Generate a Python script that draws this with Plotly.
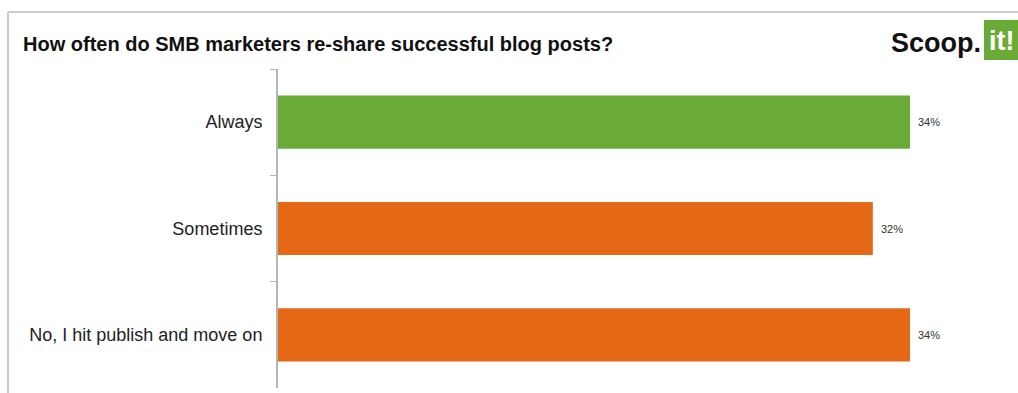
import plotly.graph_objects as go

# Survey answers and their shares (%)
categories = ["Always", "Sometimes", "No, I hit publish and move on"]
shares = [34, 32, 34]
bar_colors = ["#6aab37", "#e56816", "#e56816"]
value_labels = [f"{v}%" for v in shares]

W, H = 1018, 393
ML, MR, MT, MB = 278, 0, 69, 5
PW, PH = W - ML - MR, H - MT - MB

def px_x(x):
    return (x - ML) / PW

def px_y(y):
    return (H - MB - y) / PH

fig = go.Figure(
    go.Bar(
        y=categories,
        x=shares,
        orientation="h",
        marker=dict(color=bar_colors, line=dict(width=0)),
        width=0.5,
        hoverinfo="skip",
    )
)

# value labels just right of each bar
for cat, v, lab in zip(categories, shares, value_labels):
    fig.add_annotation(
        x=v, y=cat, text=lab, showarrow=False, xanchor="left", xshift=6,
        font=dict(family="Liberation Sans, Arial, sans-serif", size=11, color="#333333"),
    )

# title
fig.add_annotation(
    x=px_x(21), y=px_y(44), xref="paper", yref="paper", xanchor="left", yanchor="middle",
    text="<b>How often do SMB marketers re-share successful blog posts?</b>", showarrow=False,
    font=dict(family="Liberation Sans Narrow, Arial Narrow, Liberation Sans, sans-serif", size=20, color="#111111"),
)

# logo: "Scoop." wordmark plus green "it!" tile
fig.add_annotation(
    x=px_x(983), y=px_y(43), xref="paper", yref="paper", xanchor="right", yanchor="middle",
    text="<b>Scoop.</b>", showarrow=False,
    font=dict(family="Liberation Sans Narrow, Arial Narrow, Liberation Sans, sans-serif", size=27, color="#111111"),
)
fig.add_shape(
    type="rect", xref="paper", yref="paper",
    x0=px_x(984), x1=px_x(1018), y0=px_y(60), y1=px_y(20),
    fillcolor="#6aab37", line=dict(width=0), layer="above",
)
fig.add_annotation(
    x=px_x(987), y=px_y(41), xref="paper", yref="paper", xanchor="left", yanchor="middle",
    text="<b>it!</b>", showarrow=False,
    font=dict(family="Liberation Sans Narrow, Arial Narrow, Liberation Sans, sans-serif", size=27, color="#ffffff"),
)

# card frame (top and left edges)
frame = dict(color="#cccccc", width=2)
fig.add_shape(type="line", xref="paper", yref="paper",
              x0=px_x(8), x1=px_x(1018), y0=px_y(12), y1=px_y(12), line=frame)
fig.add_shape(type="line", xref="paper", yref="paper",
              x0=px_x(8), x1=px_x(8), y0=px_y(12), y1=px_y(393), line=frame)

fig.update_layout(
    width=W, height=H,
    margin=dict(l=ML, r=MR, t=MT, b=MB),
    paper_bgcolor="white", plot_bgcolor="white",
    showlegend=False,
    bargap=0.5,
    xaxis=dict(range=[0, 34 * PW / 632], visible=False, fixedrange=True),
    yaxis=dict(
        autorange="reversed",
        showline=True, linecolor="#b5b5b5", linewidth=2,
        ticks="outside", ticklen=6, tickcolor="#b5b5b5", tickwidth=1,
        tickson="boundaries",
        ticklabelstandoff=10,
        showgrid=False,
        tickfont=dict(family="Liberation Sans, Arial, sans-serif", size=18, color="#222222"),
    ),
)

fig.write_html("out.html")
